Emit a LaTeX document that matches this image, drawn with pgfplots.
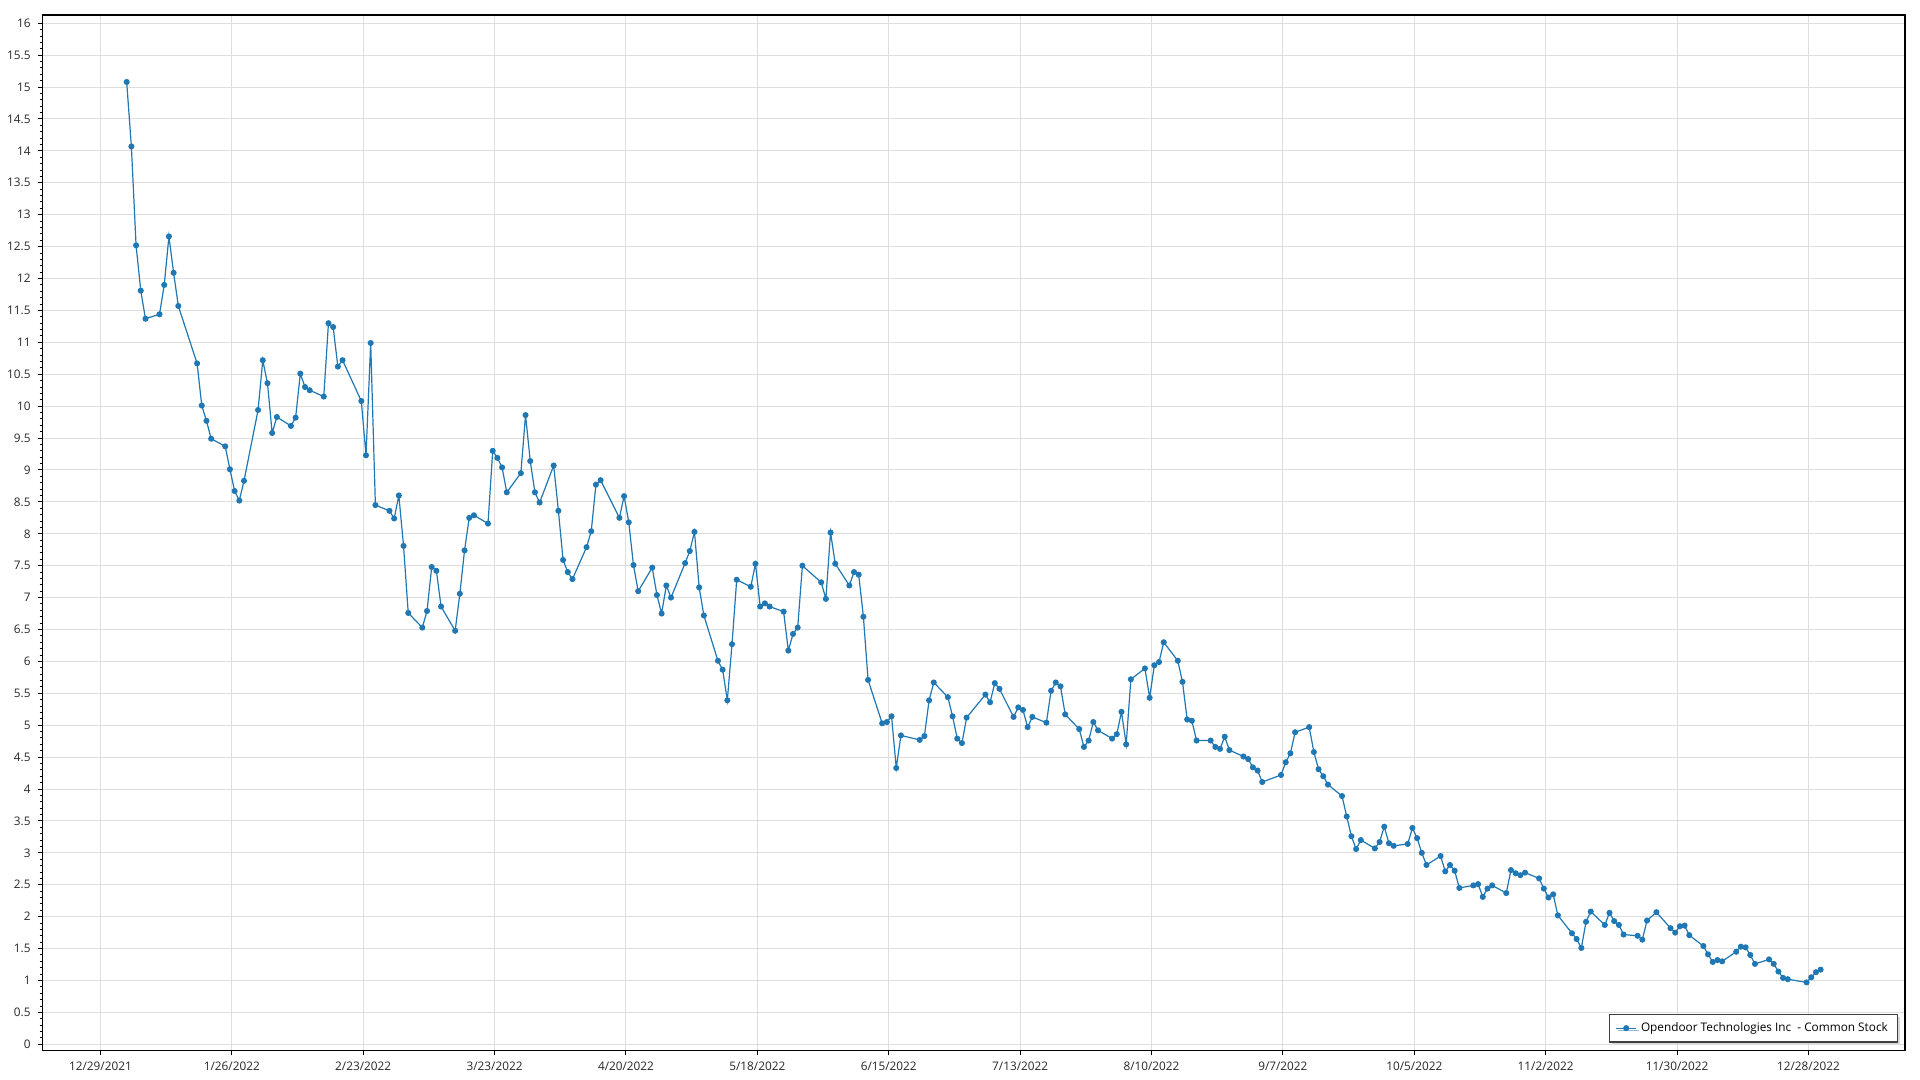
\documentclass[border=0pt]{standalone}
\usepackage{fontspec}
\setmainfont{Open Sans}
\usepackage{pgfplots}
\usepackage{pgfplotstable}
\pgfplotsset{compat=1.18}
\usetikzlibrary{shadows}

\definecolor{series}{RGB}{31,119,180}
\definecolor{gridc}{RGB}{222,222,222}

\pgfplotsset{shortleg/.style={legend image code/.code={%
    \draw[##1,mark repeat=2,mark phase=2] plot coordinates {(0cm,0cm) (0.18cm,0cm) (0.36cm,0cm)};}}}

% d = days after 12/29/2021, v = close
\pgfplotstableread{
d v
5 15.08
6 14.07
7 12.52
8 11.81
9 11.37
12 11.44
13 11.90
14 12.66
15 12.09
16 11.57
20 10.67
21 10.01
22 9.77
23 9.49
26 9.37
27 9.01
28 8.67
29 8.52
30 8.83
33 9.94
34 10.72
35 10.36
36 9.58
37 9.83
40 9.69
41 9.82
42 10.51
43 10.30
44 10.25
47 10.15
48 11.30
49 11.24
50 10.62
51 10.72
55 10.08
56 9.23
57 10.99
58 8.45
61 8.36
62 8.24
63 8.60
64 7.81
65 6.76
68 6.53
69 6.79
70 7.48
71 7.42
72 6.86
75 6.48
76 7.06
77 7.74
78 8.25
79 8.29
82 8.16
83 9.30
84 9.19
85 9.04
86 8.65
89 8.95
90 9.86
91 9.14
92 8.65
93 8.49
96 9.07
97 8.36
98 7.59
99 7.40
100 7.29
103 7.79
104 8.04
105 8.77
106 8.84
110 8.25
111 8.59
112 8.18
113 7.51
114 7.10
117 7.47
118 7.04
119 6.75
120 7.19
121 7.00
124 7.54
125 7.73
126 8.03
127 7.16
128 6.72
131 6.01
132 5.87
133 5.39
134 6.27
135 7.28
138 7.17
139 7.53
140 6.86
141 6.91
142 6.86
145 6.78
146 6.17
147 6.43
148 6.53
149 7.50
153 7.24
154 6.98
155 8.02
156 7.53
159 7.19
160 7.40
161 7.36
162 6.70
163 5.71
166 5.03
167 5.05
168 5.14
169 4.33
170 4.84
174 4.77
175 4.83
176 5.39
177 5.67
180 5.44
181 5.14
182 4.79
183 4.72
184 5.12
188 5.48
189 5.36
190 5.66
191 5.57
194 5.13
195 5.28
196 5.24
197 4.97
198 5.13
201 5.04
202 5.54
203 5.67
204 5.61
205 5.17
208 4.94
209 4.66
210 4.76
211 5.05
212 4.92
215 4.79
216 4.86
217 5.21
218 4.70
219 5.72
222 5.89
223 5.43
224 5.94
225 5.99
226 6.30
229 6.01
230 5.68
231 5.09
232 5.07
233 4.76
236 4.76
237 4.66
238 4.63
239 4.82
240 4.61
243 4.51
244 4.47
245 4.34
246 4.29
247 4.11
251 4.22
252 4.42
253 4.56
254 4.89
257 4.97
258 4.58
259 4.31
260 4.20
261 4.07
264 3.89
265 3.57
266 3.26
267 3.06
268 3.20
271 3.07
272 3.17
273 3.41
274 3.15
275 3.11
278 3.14
279 3.39
280 3.23
281 3.00
282 2.81
285 2.95
286 2.71
287 2.81
288 2.72
289 2.45
292 2.49
293 2.51
294 2.31
295 2.44
296 2.49
299 2.37
300 2.73
301 2.68
302 2.65
303 2.69
306 2.60
307 2.44
308 2.30
309 2.35
310 2.02
313 1.74
314 1.65
315 1.51
316 1.92
317 2.08
320 1.87
321 2.06
322 1.93
323 1.87
324 1.72
327 1.70
328 1.64
329 1.94
331 2.07
334 1.82
335 1.75
336 1.85
337 1.86
338 1.71
341 1.54
342 1.41
343 1.29
344 1.32
345 1.30
348 1.45
349 1.53
350 1.52
351 1.40
352 1.26
355 1.33
356 1.26
357 1.14
358 1.04
359 1.02
363 0.97
364 1.05
365 1.13
366 1.17
}\opendoor

\begin{document}
\begin{tikzpicture}
\useasboundingbox (-21.35pt,-14.85pt) rectangle (938.65pt,525.15pt);
\begin{axis}[
    at={(0,0)}, anchor=south west,
    scale only axis,
    width=931.2pt, height=517.65pt,
    xmin=-12.3, xmax=384.6,
    ymin=-0.094, ymax=16.13,
    xtick={0,28,...,364},
    xticklabels={12/29/2021,1/26/2022,2/23/2022,3/23/2022,4/20/2022,5/18/2022,6/15/2022,7/13/2022,8/10/2022,9/7/2022,10/5/2022,11/2/2022,11/30/2022,12/28/2022},
    ytick={0,0.5,...,16},
    minor y tick num=4,
    scaled y ticks=false,
    yticklabel style={/pgf/number format/.cd, fixed, precision=1, assume math mode=true},
    tick label style={font=\fontsize{5.9}{7}\selectfont, text=black!85},
    xticklabel style={yshift=0.4pt},
    tick align=outside,
    xtick pos=lower, ytick pos=left,
    major tick length=2.5pt, minor tick length=1.5pt,
    tick style={black, line width=0.5pt},
    axis line style={line width=0.7pt},
    grid=major,
    major grid style={gridc, line width=0.5pt},
    legend style={at={(1,0)}, anchor=south east, xshift=-3.35pt, yshift=3.8pt,
        draw=black!75, line width=0.6pt, fill=white,
        drop shadow={shadow xshift=1.2pt, shadow yshift=-1.2pt, fill=black!30},
        font=\fontsize{5.9}{7}\selectfont, inner xsep=3pt, inner ysep=2pt},
]
\addplot[series, line width=0.6pt, mark=*, mark size=1.2pt, shortleg]
    table[x expr=\thisrow{d}+0.6, y=v] {\opendoor};
\addlegendentry{Opendoor Technologies Inc\ \ - Common Stock}
\end{axis}
\end{tikzpicture}
\end{document}
